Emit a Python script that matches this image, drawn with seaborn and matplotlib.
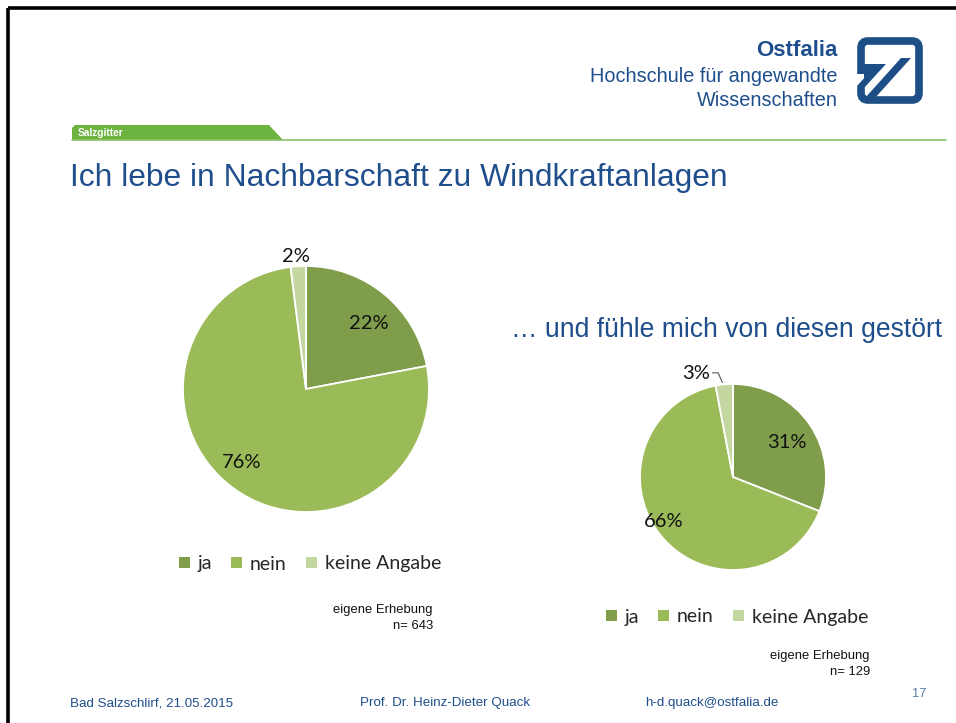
import numpy as np
import matplotlib
matplotlib.use("Agg")
import matplotlib.pyplot as plt
import seaborn as sns
from matplotlib.patches import Polygon, FancyBboxPatch, Patch

sns.set_theme(style="white")
plt.rcParams['font.family'] = ['Liberation Sans', 'DejaVu Sans']

# ---- data ----
categories = ["ja", "nein", "keine Angabe"]
values_live = [22, 76, 2]
values_disturbed = [31, 66, 3]
pie_colors = ["#809D4B", "#9BBB59", "#C4D7A0"]
title = "Ich lebe in Nachbarschaft zu Windkraftanlagen"
subtitle = "… und fühle mich von diesen gestört"
source_text = "eigene Erhebung"
n_live = "n= 643"
n_disturbed = "n= 129"
footer = ["Bad Salzschlirf, 21.05.2015", "Prof. Dr. Heinz-Dieter Quack", "h-d.quack@ostfalia.de"]
page_no = "17"

W, H = 956, 723
BLUE = "#1F4E8C"
fig = plt.figure(figsize=(W / 100, H / 100), dpi=100)
fig.patch.set_facecolor("white")

bg = fig.add_axes([0, 0, 1, 1])
bg.set_xlim(0, W)
bg.set_ylim(H, 0)
bg.axis("off")

# slide border (top + left)
bg.plot([8, W], [8, 8], color="black", lw=2.6, solid_capstyle="butt")
bg.plot([8, 8], [8, H], color="black", lw=2.6, solid_capstyle="butt")

# header line and Salzgitter tab
bg.plot([72, 946], [139.5, 139.5], color="#8CC265", lw=1.2)
bg.add_patch(Polygon([[72, 140], [72, 128], [75, 125], [269, 125], [283, 140]],
                     closed=True, color="#6DB33F", lw=0))
bg.text(78, 132.5, "Salzgitter", color="white", fontsize=7.3, fontweight="bold",
        va="center", ha="left")

# logo text
bg.text(838, 50, "Ostfalia", color=BLUE, fontsize=16, fontweight="bold",
        ha="right", va="center")
bg.text(838, 77, "Hochschule für angewandte", color=BLUE, fontsize=14.3,
        ha="right", va="center")
bg.text(838, 101, "Wissenschaften", color=BLUE, fontsize=14.3,
        ha="right", va="center")

# logo mark
LOGO = "#1D4F86"
bg.add_patch(FancyBboxPatch((861, 41), 58, 59, boxstyle="round,pad=0,rounding_size=7",
                            fill=False, ec=LOGO, lw=5.5))
bg.add_patch(Polygon([[855, 74], [868, 74], [855, 88]], closed=True, color="white", lw=0))
bg.add_patch(Polygon([[865, 98], [875, 98], [911, 58], [901, 58]], closed=True, color=LOGO, lw=0))
bg.add_patch(Polygon([[864, 64], [886, 64], [864, 88]], closed=True, color=LOGO, lw=0))

# titles
bg.text(70, 178, title, color=BLUE, fontsize=22.9, ha="left", va="center")
bg.text(511, 330, subtitle, color=BLUE, fontsize=19.1, ha="left", va="center")

LBL_FONT = ["Lato", "DejaVu Sans"]


def draw_pie(cx, cy, r, values, dists):
    ax = fig.add_axes([(cx - r) / W, (H - cy - r) / H, 2 * r / W, 2 * r / H])
    wedges, _ = ax.pie(values, colors=pie_colors, startangle=90, counterclock=False,
                       wedgeprops=dict(edgecolor="white", linewidth=1.3), radius=1)
    ax.set_xlim(-1, 1)
    ax.set_ylim(-1, 1)
    ax.set_aspect("equal")
    ax.axis("off")
    for w, v, d in zip(wedges, values, dists):
        ang = np.deg2rad((w.theta1 + w.theta2) / 2)
        dist, off = d
        x = dist * np.cos(ang) + off[0]
        y = dist * np.sin(ang) + off[1]
        ax.text(x, y, f"{v}%", ha="center", va="center", fontsize=14.5,
                color="#111111", family=LBL_FONT, clip_on=False)
    return ax, wedges


ax1, w1 = draw_pie(306, 389, 123, values_live,
                   [(0.76, (0.03, -0.05)), (0.79, (-0.06, 0.04)), (1.08, (-0.01, 0.0))])
ax2, w2 = draw_pie(733, 477, 93, values_disturbed,
                   [(0.70, (0.0, -0.02)), (0.86, (-0.08, 0.07)), (1.12, (-0.29, 0.0))])
# leader line for the small slice of the second pie
ang = np.deg2rad((w2[2].theta1 + w2[2].theta2) / 2)
ex, ey = np.cos(ang) * 1.0, np.sin(ang) * 1.0
ax2.plot([-0.22, -0.16, ex - 0.02], [1.12, 1.12, ey + 0.02], color="#555555", lw=0.8,
         clip_on=False)

# legends
handles = [Patch(facecolor=c, edgecolor="none") for c in pie_colors]
for cx, ly in [(310, 564), (737, 617)]:
    fig.legend(handles, categories, loc="center", bbox_to_anchor=(cx / W, 1 - ly / H),
               ncol=3, frameon=False, handlelength=0.55, handleheight=0.55,
               handletextpad=0.4, columnspacing=1.0,
               prop=dict(family=LBL_FONT, size=14))

# sources
for x, y0, n in [(433, 610, n_live), (870, 656, n_disturbed)]:
    bg.text(x, y0, source_text, fontsize=9.4, ha="right", va="center", color="#111111")
    bg.text(x, y0 + 16, n, fontsize=9.4, ha="right", va="center", color="#111111")

# footer
for x, t in zip([70, 360, 645], footer):
    bg.text(x, 703, t, fontsize=9.6, ha="left", va="center", color=BLUE)
bg.text(912, 694, page_no, fontsize=9.3, ha="left", va="center", color="#5B7BAA")

fig.savefig("out.png", dpi=100, facecolor="white")
